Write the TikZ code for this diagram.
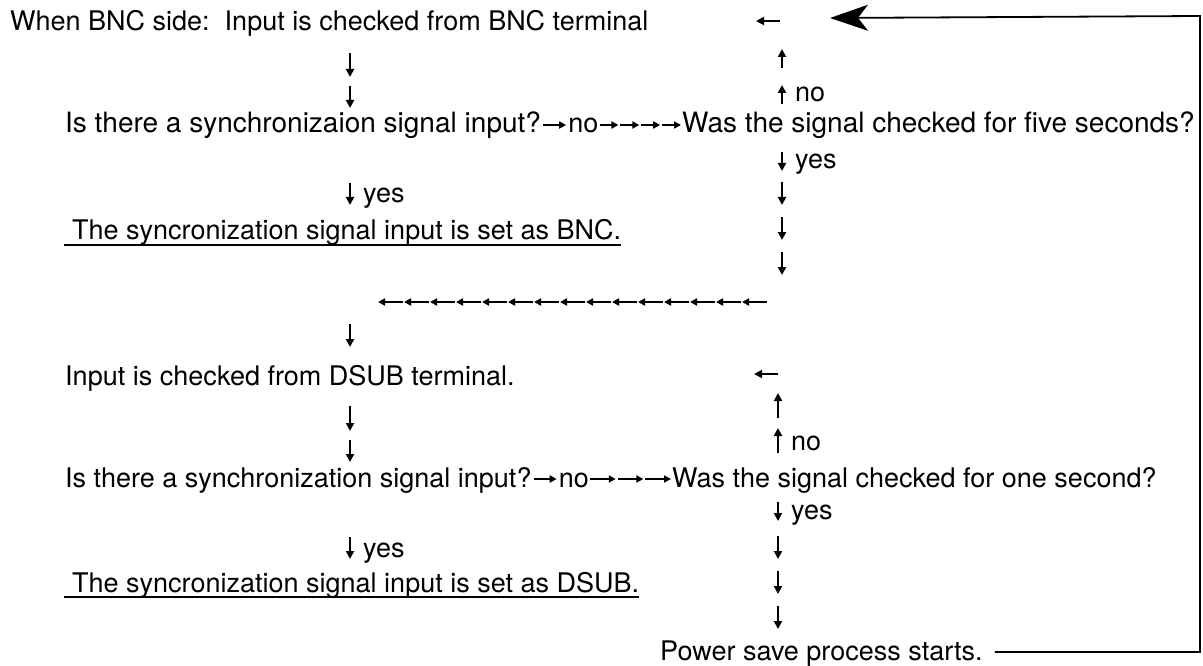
\documentclass[tikz,border=0pt]{standalone}
\usepackage{fontspec}
\setmainfont{TeX Gyre Heros}
\usetikzlibrary{arrows.meta,calc}
\begin{document}
\begin{tikzpicture}[x=1pt,y=-1pt,
  txt/.style={anchor=base west,inner sep=0pt,font=\fontsize{27}{33}\selectfont},
  wide/.style={font=\fontsize{28}{34}\selectfont},
  glyph/.style={line width=1.9pt,-{Triangle[length=8pt,width=8pt]}},
  chainarr/.style={line width=1.7pt,-{Triangle[length=7pt,width=7pt]}},
  loopline/.style={line width=1.8pt},
  uline/.style={line width=1.6pt}]
\useasboundingbox (0,0) rectangle (1203,666);

% ---------- BNC block ----------
\node[txt] (bncin) at (10,31) {When BNC side:\ \ Input is checked from BNC terminal};
\coordinate (retA) at (780,21);
\draw[glyph] (retA) -- ++(-24,0);

\draw[glyph] (350,53) -- (350,77);
\draw[glyph] (350,86) -- (350,108);

\draw[glyph] (782,68) -- (782,49);
\draw[glyph] (782,104) -- (782,85);
\node[txt] (noA) at (795,102) {no};

\node[txt,wide] (qA) at (65,133) {Is there a synchronizaion signal input?};
\node[txt] (noAb) at ($(qA.base east)+(27,0)$) {no};
\node[txt,wide] (wA) at (682,133) {Was the signal checked for five seconds?};
\draw[chainarr] ($(qA.base east)+(2,-8)$) -- ($(noAb.base west)+(-2,-8)$);
\foreach \k [evaluate=\k as \f using \k/4, evaluate=\k as \g using (\k+1)/4] in {0,...,3}
  \draw[chainarr] ($($(noAb.base east)!\f!(wA.base west)$)+(1,-8)$) -- ($($(noAb.base east)!\g!(wA.base west)$)+(-1,-8)$);

\draw[glyph] (782,152) -- (782,171);
\node[txt] (yesAr) at (795,168) {yes};
\draw[glyph] (782,182) -- (782,205);
\draw[glyph] (782,217) -- (782,240);
\draw[glyph] (782,252) -- (782,275);

\draw[glyph] (350,183) -- (350,205);
\node[txt] (yesAl) at (363,203) {yes};
\node[txt] (setA) at (72,240) {The syncronization signal input is set as BNC.};
\draw[uline] ($(setA.base west)+(-8,5)$) -- ($(setA.base east)+(0,5)$);

% ---------- return row to DSUB ----------
\foreach \i in {0,...,14}
  \draw[chainarr] ({767-26*\i},302) -- ({767-26*\i-25},302);
\draw[glyph] (350,324) -- (350,347);

% ---------- DSUB block ----------
\node[txt] (dsubin) at (65,385) {Input is checked from DSUB terminal.};
\coordinate (retB) at (778,374);
\draw[glyph] (retB) -- ++(-24,0);

\draw[glyph] (350,406) -- (350,431);
\draw[glyph] (350,440) -- (350,462);

\draw[glyph] (778,418) -- (778,393);
\draw[glyph] (778,453) -- (778,428);
\node[txt] (noB) at (791,450) {no};

\node[txt] (qB)   at (65,487)  {Is there a synchronization signal input?};
\node[txt] (noBb) at ($(qB.base east)+(27,0)$) {no};
\node[txt] (wB)   at (672,487) {Was the signal checked for one second?};
\draw[chainarr] ($(qB.base east)+(2,-8)$) -- ($(noBb.base west)+(-2,-8)$);
\foreach \k [evaluate=\k as \f using \k/3, evaluate=\k as \g using (\k+1)/3] in {0,...,2}
  \draw[chainarr] ($($(noBb.base east)!\f!(wB.base west)$)+(1,-8)$) -- ($($(noBb.base east)!\g!(wB.base west)$)+(-1,-8)$);

\draw[glyph] (778,502) -- (778,521);
\node[txt] (yesBr) at (791,519) {yes};
\draw[glyph] (778,536) -- (778,559);
\draw[glyph] (778,571) -- (778,594);
\draw[glyph] (778,606) -- (778,629);

\draw[glyph] (350,537) -- (350,559);
\node[txt] (yesBl) at (363,557) {yes};
\node[txt] (setB) at (72,592) {The syncronization signal input is set as DSUB.};
\draw[uline] ($(setB.base west)+(-8,5)$) -- ($(setB.base east)+(0,5)$);

% ---------- power save and loop back ----------
\node[txt] (ps) at (660,660) {Power save process starts.};
\coordinate (cBot) at (1200,652);
\coordinate (cTop) at (1200,16);
\coordinate (tip)  at (830,18);
\draw[loopline,-{Stealth[length=38pt,width=26pt,inset=10pt]}]
  ($(ps.base east)+(12,-8)$) -- (cBot) -- (cTop) -- (tip);
\end{tikzpicture}
\end{document}
